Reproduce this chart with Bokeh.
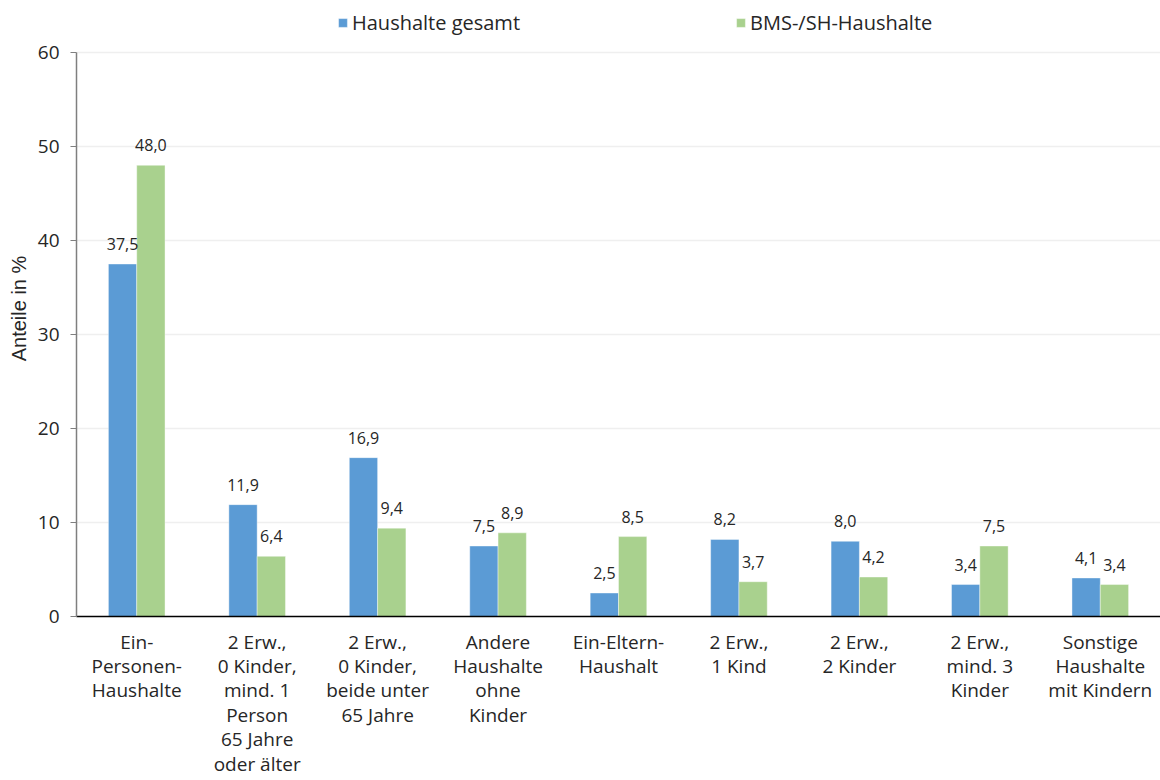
from bokeh.plotting import figure
from bokeh.models import (ColumnDataSource, FactorRange, Range1d, LabelSet,
                          Legend, LegendItem, FixedTicker)
from bokeh.core.properties import value
from bokeh.transform import dodge
from bokeh.embed import file_html
from bokeh.resources import INLINE

FONT = "Open Sans"
LABEL_FONT = "Liberation Sans"

categories = [
    "Ein-\nPersonen-\nHaushalte",
    "2 Erw.,\n0 Kinder,\nmind. 1\nPerson\n65 Jahre\noder älter",
    "2 Erw.,\n0 Kinder,\nbeide unter\n65 Jahre",
    "Andere\nHaushalte\nohne\nKinder",
    "Ein-Eltern-\nHaushalt",
    "2 Erw.,\n1 Kind",
    "2 Erw.,\n2 Kinder",
    "2 Erw.,\nmind. 3\nKinder",
    "Sonstige\nHaushalte\nmit Kindern",
]
haushalte_gesamt = [37.5, 11.9, 16.9, 7.5, 2.5, 8.2, 8.0, 3.4, 4.1]
bms_sh_haushalte = [48.0, 6.4, 9.4, 8.9, 8.5, 3.7, 4.2, 7.5, 3.4]
series_names = ["Haushalte gesamt", "BMS-/SH-Haushalte"]
y_ticks = [0, 10, 20, 30, 40, 50, 60]

BLUE = "#5B9BD5"
GREEN = "#A9D18E"
TEXT = "#262626"

W, H = 1160, 780
LEFT, BOTTOM = 76, 164
PLOT_TOP = 52          # pixel row of the 60 % line
y_max = y_ticks[-1]
# the frame reaches the top edge so the legend can sit above the 60 % line
y_end = y_max * (H - BOTTOM) / (H - BOTTOM - PLOT_TOP)


def fmt(v):
    return f"{v:.1f}".replace(".", ",")


src = ColumnDataSource(dict(
    cat=categories,
    a=haushalte_gesamt,
    b=bms_sh_haushalte,
    a_txt=[fmt(v) for v in haushalte_gesamt],
    b_txt=[fmt(v) for v in bms_sh_haushalte],
))

p = figure(
    width=W, height=H,
    x_range=FactorRange(factors=categories, range_padding=0),
    y_range=Range1d(0, y_end),
    output_backend="svg", toolbar_location=None,
    min_border_left=LEFT, min_border_right=0,
    min_border_top=0, min_border_bottom=BOTTOM,
)
p.outline_line_color = None
p.background_fill_color = "white"
p.border_fill_color = "white"

bw = 0.235
ra = p.vbar(x=dodge("cat", -bw / 2, range=p.x_range), top="a", width=bw,
            source=src, fill_color=BLUE, line_color="white", line_alpha=0.4)
rb = p.vbar(x=dodge("cat", bw / 2, range=p.x_range), top="b", width=bw,
            source=src, fill_color=GREEN, line_color="white", line_alpha=0.4)

for col, txt, off in (("a", "a_txt", -bw / 2), ("b", "b_txt", bw / 2)):
    p.add_layout(LabelSet(
        x=dodge("cat", off, range=p.x_range), y=col, text=txt, source=src,
        y_offset=20, text_align="center", text_baseline="middle",
        text_font=value(FONT), text_font_size=value("16px"),
        text_color=value(TEXT),
    ))

# grid
p.xgrid.grid_line_color = None
p.ygrid.grid_line_color = "#EFEFEF"
p.ygrid.grid_line_width = 1.5
p.ygrid.ticker = FixedTicker(ticks=y_ticks)

# y axis
ya = p.yaxis[0]
ya.ticker = FixedTicker(ticks=y_ticks)
ya.bounds = (0, y_max)
ya.axis_label = "Anteile in %"
ya.axis_label_text_font = LABEL_FONT
ya.axis_label_text_font_size = "20px"
ya.axis_label_text_font_style = "normal"
ya.axis_label_text_color = TEXT
ya.axis_label_standoff = 5
ya.major_label_text_font = FONT
ya.major_label_text_font_size = "19px"
ya.major_label_text_color = TEXT
ya.major_label_standoff = 11
ya.axis_line_color = "#7F7F7F"
ya.axis_line_width = 1.5
ya.major_tick_line_color = "#7F7F7F"
ya.major_tick_in = 0
ya.major_tick_out = 6
ya.minor_tick_line_color = None

# x axis
xa = p.xaxis[0]
xa.axis_line_color = "black"
xa.axis_line_width = 1.5
xa.major_tick_line_color = None
xa.minor_tick_line_color = None
xa.major_label_text_font = FONT
xa.major_label_text_font_size = "19px"
xa.major_label_text_color = TEXT
xa.major_label_text_line_height = 0.94
xa.major_label_standoff = 6
xa.major_label_orientation = "horizontal"

legend = Legend(
    items=[LegendItem(label=series_names[0], renderers=[ra]),
           LegendItem(label=series_names[1], renderers=[rb])],
    orientation="horizontal",
    location=(261, 580),
    glyph_width=11, glyph_height=11,
    label_text_font=FONT, label_text_font_size="20px",
    label_text_color=TEXT, label_standoff=4,
    spacing=215, padding=0, margin=0,
    border_line_color=None, background_fill_alpha=0,
)
p.add_layout(legend)

open("out.html", "w").write(file_html(p, INLINE))
